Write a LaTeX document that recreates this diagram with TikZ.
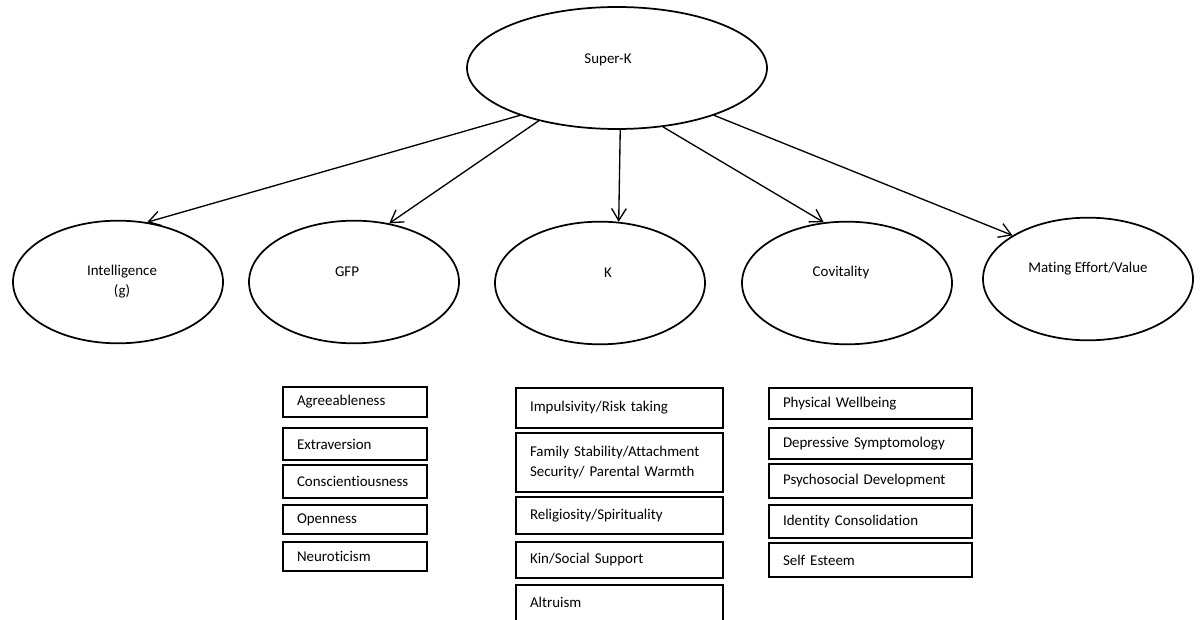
\documentclass[tikz,border=0pt]{standalone}
\usepackage{fontspec}
\setmainfont{Carlito}[Ligatures={NoCommon,NoContextual}, RawFeature={-liga;-clig;-calt;-dlig}]
\usepackage{tikz}
\usetikzlibrary{arrows.meta,shapes.geometric}

\begin{document}
\begin{tikzpicture}[x=0.75pt, y=-0.75pt,
    oval/.style={ellipse, draw, line width=1.3pt, minimum width=157.5pt, minimum height=92pt, inner sep=0pt},
    ovaltext/.style={font=\fontsize{11.2}{15}\selectfont, align=center},
    item/.style={draw, line width=1.2pt, inner xsep=10.5pt, inner ysep=0pt, align=left, font=\fontsize{11.2}{15}\selectfont},
    gfpbox/.style={item, text width=87pt},
    kbox/.style={item, text width=134.25pt},
    covbox/.style={item, text width=131.25pt},
    link/.style={-{Straight Barb[length=9pt,width=11pt]}, line width=1pt}]
    \useasboundingbox (0,0) rectangle (1203,620);
    \clip (0,0) rectangle (1203,620);

    % Top factor
    \node[oval, minimum width=225pt, minimum height=91.5pt, label={[ovaltext, xshift=-6.75pt, yshift=6pt]center:Super-K}] (superk) at (617,68) {};

    % Second order factors
    \node[oval, label={[ovaltext, xshift=3pt]center:Intelligence\\(g)}] (intel) at (118,282) {};
    \node[oval, label={[ovaltext, xshift=-5.25pt, yshift=7.5pt]center:GFP}] (gfp) at (354,282) {};
    \node[oval, label={[ovaltext, xshift=6pt, yshift=7.5pt]center:K}] (k) at (600,283) {};
    \node[oval, label={[ovaltext, xshift=-4.5pt, yshift=7.5pt]center:Covitality}] (covit) at (847,283) {};
    \node[oval, label={[ovaltext, yshift=7.5pt]center:Mating Effort/Value}] (mating) at (1088,279) {};

    % Arrows
    \draw[link] (superk.206) -- (intel.64);
    \draw[link] (superk.214) -- (gfp.59);
    \draw[link] (superk.273) -- (k.73);
    \draw[link] (superk.308) -- (covit.111);
    \draw[link] (superk.334) -- (mating.150);

    % GFP indicators
    \node[gfpbox, minimum height=22.5pt] (agree) at (355,402) {Agreeableness};
    \node[gfpbox, minimum height=24pt] (extra) at (355,444) {Extraversion};
    \node[gfpbox, minimum height=24.75pt] (consc) at (355,481.5) {Conscientiousness};
    \node[gfpbox, minimum height=21.75pt] (open) at (355,519.5) {Openness};
    \node[gfpbox, minimum height=21.75pt] (neuro) at (355,556.5) {Neuroticism};

    % K indicators
    \node[kbox, minimum height=30pt] (impuls) at (619.5,408) {Impulsivity/Risk taking};
    \node[kbox, minimum height=44.25pt] (family) at (619.5,462.5) {Family Stability/Attachment\\Security/ Parental Warmth};
    \node[kbox, minimum height=27.75pt] (relig) at (619.5,515.5) {Religiosity/Spirituality};
    \node[kbox, minimum height=27pt] (kin) at (619.5,560) {Kin/Social Support};
    \node[kbox, minimum height=41.25pt] (altru) at (619.5,612.5) {Altruism\\\mbox{}};

    % Covitality indicators
    \node[covbox, minimum height=23.25pt] (phys) at (870.5,403.5) {Physical Wellbeing};
    \node[covbox, minimum height=23.25pt] (depr) at (870.5,443.5) {Depressive Symptomology};
    \node[covbox, minimum height=25.5pt] (psych) at (870.5,481) {Psychosocial Development};
    \node[covbox, minimum height=24.75pt] (ident) at (870.5,521.5) {Identity Consolidation};
    \node[covbox, minimum height=25.5pt] (selfe) at (870.5,560) {Self Esteem};
\end{tikzpicture}
\end{document}
